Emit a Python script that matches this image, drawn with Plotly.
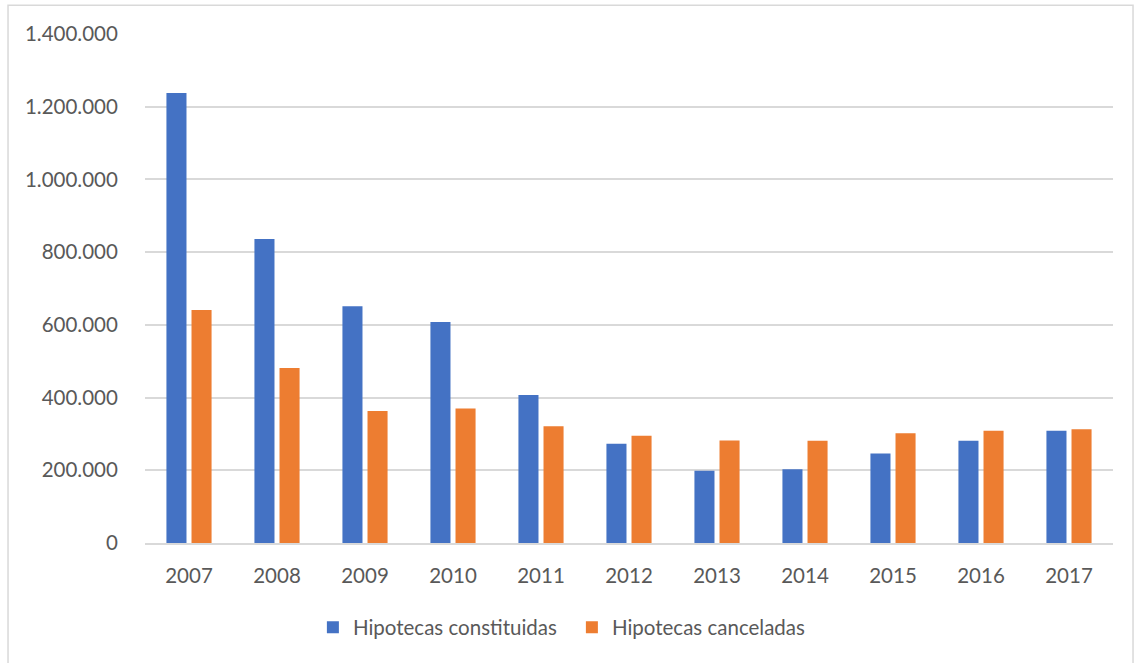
import plotly.graph_objects as go

years = ["2007", "2008", "2009", "2010", "2011", "2012", "2013", "2014", "2015", "2016", "2017"]
constituidas = [1238000, 836000, 651000, 608000, 407000, 273000, 199000, 203000, 246000, 281000, 309000]
canceladas = [641000, 481000, 363000, 370000, 321000, 295000, 282000, 281000, 302000, 309000, 313000]

BLUE = "#4472C4"
ORANGE = "#ED7D31"
TEXT = "#595959"
GRID = "#D9D9D9"
FONT = "Lato, 'Open Sans', sans-serif"
FS = 20.5

fig = go.Figure()
fig.add_trace(go.Bar(x=years, y=constituidas, name="Hipotecas constituidas",
                     marker=dict(color=BLUE, line=dict(width=0))))
fig.add_trace(go.Bar(x=years, y=canceladas, name="Hipotecas canceladas",
                     marker=dict(color=ORANGE, line=dict(width=0))))

# outer chart frame (light grey)
fig.add_shape(type="rect", xref="paper", yref="paper",
              x0=-0.1415, x1=1.0207, y0=-0.26, y1=1.0563,
              line=dict(color=GRID, width=1.5), fillcolor="rgba(0,0,0,0)", layer="below")

fig.update_layout(
    width=1134, height=663,
    margin=dict(l=145, r=21, t=34, b=120),
    paper_bgcolor="white", plot_bgcolor="white",
    barmode="group", bargap=0.43, bargroupgap=0.2,
    separators=",.",
    font=dict(family=FONT, size=FS, color=TEXT),
    showlegend=True,
    legend=dict(orientation="h", x=0.441, xanchor="center", y=-0.166, yanchor="middle",
                font=dict(size=FS, color=TEXT), itemwidth=30, traceorder="normal",
                entrywidth=214, entrywidthmode="pixels"),
    xaxis=dict(showgrid=False, showline=True, linecolor=GRID, linewidth=1.5,
               ticks="outside", ticklen=14, tickcolor="rgba(0,0,0,0)",
               tickfont=dict(size=FS, color=TEXT)),
    yaxis=dict(range=[0, 1400000], dtick=200000, tickformat=",d",
               showgrid=True, gridcolor=GRID, gridwidth=1.5, zeroline=False,
               showline=False, ticks="outside", ticklen=22, tickcolor="rgba(0,0,0,0)",
               tickfont=dict(size=FS, color=TEXT)),
)

fig.write_html("out.html")
